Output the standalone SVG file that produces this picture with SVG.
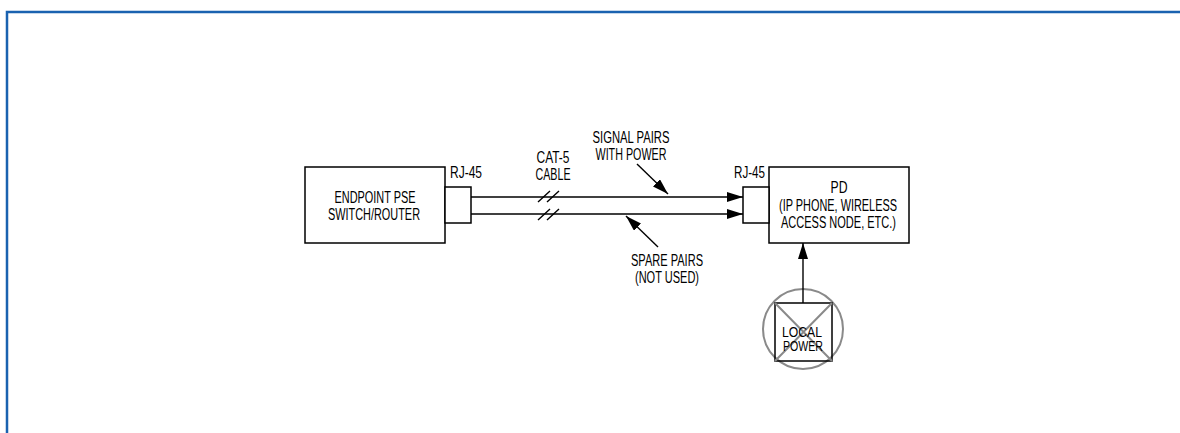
<svg xmlns="http://www.w3.org/2000/svg" width="1180" height="433" viewBox="0 0 1180 433">
<style>
.box{fill:#fff;stroke:#000;stroke-width:1.5}
.ln{fill:none;stroke:#000;stroke-width:1.4}
.gr{fill:none;stroke:#8a8a8a;stroke-width:2}
text{font-family:"Liberation Sans",Arial,sans-serif;font-size:16px;fill:#000}
.c{text-anchor:middle}
.s{font-size:14px}
</style>
<defs>
<marker id="ah" markerUnits="userSpaceOnUse" markerWidth="18" markerHeight="12" refX="16" refY="5" orient="auto">
<path d="M0,0 L16,5 L0,10 Z" fill="#000"/>
</marker>
</defs>
<path d="M7,433 V12 H1180" fill="none" stroke="#1a62b0" stroke-width="2.5"/>
<g id="pse">
<rect class="box" x="305" y="167" width="140" height="76"/>
<text class="c" x="375" y="203" textLength="81" lengthAdjust="spacingAndGlyphs">ENDPOINT PSE</text>
<text class="c" x="374" y="220" textLength="92" lengthAdjust="spacingAndGlyphs">SWITCH/ROUTER</text>
</g>
<g id="rj45-pse">
<rect class="box" x="445" y="187" width="26" height="36"/>
<text x="450" y="178" textLength="32" lengthAdjust="spacingAndGlyphs">RJ-45</text>
</g>
<g id="pd">
<rect class="box" x="769" y="167" width="140" height="76"/>
<text class="c" x="839" y="193" textLength="17" lengthAdjust="spacingAndGlyphs">PD</text>
<text class="c" x="838" y="211" textLength="118" lengthAdjust="spacingAndGlyphs">(IP PHONE, WIRELESS</text>
<text class="c" x="838.5" y="228" textLength="115" lengthAdjust="spacingAndGlyphs">ACCESS NODE, ETC.)</text>
</g>
<g id="rj45-pd">
<rect class="box" x="743" y="187" width="26" height="36"/>
<text x="734" y="178" textLength="31" lengthAdjust="spacingAndGlyphs">RJ-45</text>
</g>
<g id="local-power">
<circle class="gr" cx="803" cy="329" r="40"/>
<rect x="775" y="303" width="57" height="58" fill="none" stroke="#000" stroke-width="1.5"/>
<path class="gr" d="M775,303 L832,361 M832,303 L775,361" stroke-width="1.6"/>
<text class="c s" x="802" y="337" textLength="40" lengthAdjust="spacingAndGlyphs">LOCAL</text>
<text class="c s" x="803" y="351" textLength="40" lengthAdjust="spacingAndGlyphs">POWER</text>
</g>
<g id="labels">
<text class="c" x="553" y="163" textLength="33" lengthAdjust="spacingAndGlyphs">CAT-5</text>
<text class="c" x="553" y="180" textLength="35" lengthAdjust="spacingAndGlyphs">CABLE</text>
<text class="c" x="631" y="143" textLength="77" lengthAdjust="spacingAndGlyphs">SIGNAL PAIRS</text>
<text class="c" x="631" y="160" textLength="71" lengthAdjust="spacingAndGlyphs">WITH POWER</text>
<text class="c" x="667" y="266" textLength="72" lengthAdjust="spacingAndGlyphs">SPARE PAIRS</text>
<text class="c" x="667" y="283" textLength="64" lengthAdjust="spacingAndGlyphs">(NOT USED)</text>
</g>
<g id="connectors">
<line class="ln" x1="471" y1="197" x2="743" y2="197" marker-end="url(#ah)"/>
<line class="ln" x1="471" y1="214" x2="743" y2="214" marker-end="url(#ah)"/>
<path class="ln" d="M538,202 L550,191 M547,202 L559,191 M538,220 L550,209 M547,220 L559,209"/>
<line class="ln" x1="637" y1="164" x2="668" y2="194" marker-end="url(#ah)"/>
<line class="ln" x1="658" y1="247" x2="626" y2="216" marker-end="url(#ah)"/>
<line class="ln" x1="803" y1="303" x2="803" y2="243" marker-end="url(#ah)"/>
</g>
</svg>
